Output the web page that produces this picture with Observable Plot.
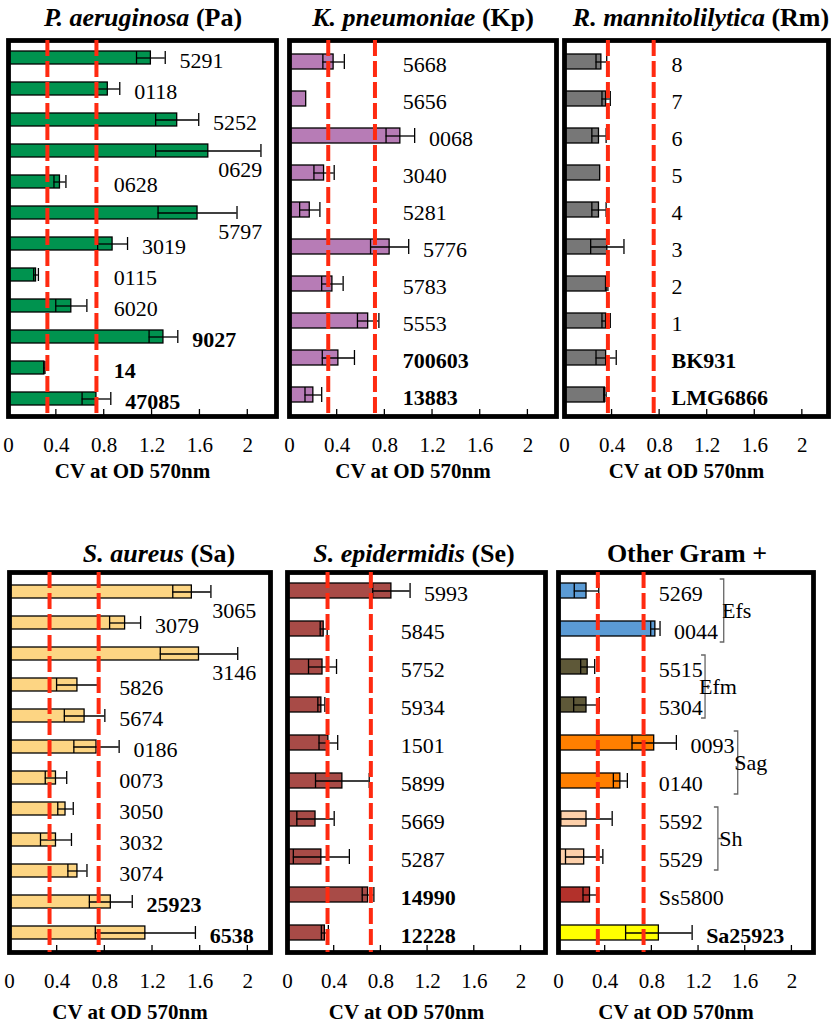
<!DOCTYPE html>
<html><head><meta charset="utf-8">
<script src="https://cdn.jsdelivr.net/npm/d3@7"></script>
<script src="https://cdn.jsdelivr.net/npm/@observablehq/plot@0.6"></script>
<style>
body{margin:0;background:#fff;}
#root{position:relative;width:840px;height:1026px;overflow:hidden;font-family:"Liberation Serif","Times New Roman",serif;background:#fff;}
.title{position:absolute;text-align:center;font-weight:bold;font-size:26px;line-height:30px;white-space:nowrap;width:300px;}
.panel{position:absolute;}
</style></head><body><div id="root"></div>
<script>
// ---------- DATA ----------
const tickValues = [0, 0.4, 0.8, 1.2, 1.6, 2];
const axisTitle = "CV at OD 570nm";

const paLabels = ["5291","0118","5252","0629","0628","5797","3019","0115","6020","9027","14","47085"];
const paValues = [1.19,0.83,1.41,1.67,0.43,1.58,0.87,0.23,0.525,1.295,0.30,0.735];
const paErrors = [0.12,0.10,0.18,0.44,0.05,0.33,0.125,0.02,0.13,0.12,0.005,0.12];
const paRef = ["9027","14","47085"];
const paThresholds = [0.325,0.735];

const kpLabels = ["5668","5656","0068","3040","5281","5776","5783","5553","700603","13883"];
const kpValues = [0.37,0.14,0.93,0.29,0.17,0.84,0.36,0.66,0.41,0.20];
const kpErrors = [0.09,0,0.12,0.085,0.085,0.16,0.09,0.09,0.135,0.07];
const kpRef = ["700603","13883"];
const kpThresholds = [0.325,0.717];

const rmLabels = ["8","7","6","5","4","3","2","1","BK931","LMG6866"];
const rmValues = [0.31,0.35,0.29,0.30,0.29,0.36,0.355,0.35,0.35,0.34];
const rmErrors = [0.045,0.035,0.06,0,0.06,0.14,0.01,0.035,0.085,0.01];
const rmRef = ["BK931","LMG6866"];
const rmThresholds = [0.365,0.75];

const saLabels = ["3065","3079","3146","5826","5674","0186","0073","3050","3032","3074","25923","6538"];
const saValues = [1.53,0.97,1.59,0.57,0.63,0.73,0.39,0.47,0.39,0.57,0.85,1.14];
const saErrors = [0.16,0.13,0.325,0.175,0.17,0.19,0.09,0.065,0.13,0.08,0.18,0.42];
const saRef = ["25923","6538"];
const saThresholds = [0.336,0.748];

const seLabels = ["5993","5845","5752","5934","1501","5899","5669","5287","14990","12228"];
const seValues = [0.89,0.31,0.30,0.29,0.35,0.47,0.24,0.29,0.69,0.32];
const seErrors = [0.16,0.03,0.12,0.03,0.08,0.23,0.16,0.24,0.05,0.03];
const seRef = ["14990","12228"];
const seThresholds = [0.343,0.714];

const otLabels = ["5269","0044","5515","5304","0093","0140","5592","5529","Ss5800","Sa25923"];
const otValues = [0.24,0.83,0.25,0.24,0.82,0.53,0.24,0.22,0.27,0.86];
const otErrors = [0.105,0.04,0.06,0.11,0.19,0.06,0.22,0.16,0.06,0.285];
const otRef = ["Sa25923"];
const otThresholds = [0.337,0.729];
const otColors = ["#5b9bd5","#5b9bd5","#5e5838","#5e5838","#ff7f00","#ff7f00","#fdd0aa","#fdd0aa","#b3312b","#ffff00"];
const otGroups = ["Efs","Efm","Sag","Sh"];
const otGroupMembers = [["5269","0044"],["5515","5304"],["0093","0140"],["5592","5529"]];

// ---------- LAYOUT ----------
const FS = 22;     // data labels
const TFS = 21;    // tick labels / axis title
const panels = [
  {title:"<i>P. aeruginosa</i> (Pa)", tcx:143, ttop:3, left:0, top:36, width:280, ml:8, mr:4, ph:376, xmax:2.24, floor:0.88,
   labels:paLabels, values:paValues, errors:paErrors, ref:paRef, thr:paThresholds, color:"#00934f", pad:0.58, axDy:61},
  {title:"<i>K. pneumoniae</i> (Kp)", tcx:423, ttop:3, left:280, top:36, width:280, ml:9, mr:4, ph:376, xmax:2.24, floor:0.95,
   labels:kpLabels, values:kpValues, errors:kpErrors, ref:kpRef, thr:kpThresholds, color:"#b77cb6", pad:0.6, axDy:61},
  {title:"<i>R. mannitolilytica</i> (Rm)", tcx:701, ttop:3, left:555, top:36, width:278, ml:9, mr:5, ph:376, xmax:2.22, floor:0.9,
   labels:rmLabels, values:rmValues, errors:rmErrors, ref:rmRef, thr:rmThresholds, color:"#777777", pad:0.6, axDy:61},
  {title:"<i>S. aureus</i> (Sa)", tcx:159, ttop:539, left:0, top:568, width:274, ml:9, mr:4, ph:380, xmax:2.19, floor:0.92,
   labels:saLabels, values:saValues, errors:saErrors, ref:saRef, thr:saThresholds, color:"#fdd583", pad:0.58, axDy:66},
  {title:"<i>S. epidermidis</i> (Se)", tcx:414, ttop:539, left:280, top:568, width:270, ml:7, mr:5, ph:380, xmax:2.21, floor:0.97,
   labels:seLabels, values:seValues, errors:seErrors, ref:seRef, thr:seThresholds, color:"#a84b47", pad:0.6, axDy:66},
  {title:"Other Gram +", tcx:687, ttop:539, left:550, top:568, width:268, ml:8, mr:5, ph:380, xmax:2.185, floor:0.86,
   labels:otLabels, values:otValues, errors:otErrors, ref:otRef, thr:otThresholds, colors:otColors, pad:0.6, axDy:66,
   groups:otGroups, members:otGroupMembers, bracketX:[1.42,1.26,1.54,1.37]}
];

const root = document.getElementById("root");

function innerTicks(index, scales, values, dims) {
  const g = d3.create("svg:g").attr("stroke","black").attr("stroke-width",1.3);
  const yb = dims.height - dims.marginBottom;
  for (const t of tickValues.slice(1)) {
    const x = scales.x(t);
    g.append("line").attr("x1",x).attr("x2",x).attr("y1",yb).attr("y2",yb-7);
  }
  return g.node();
}

function bracketMark(cfg) {
  return (index, scales, values, dims) => {
    const g = d3.create("svg:g");
    const bw = scales.y.bandwidth ? scales.y.bandwidth() : 0;
    cfg.groups.forEach((name, k) => {
      const [a, b] = cfg.members[k];
      const x = scales.x(cfg.bracketX[k]);
      const y1 = scales.y(a) - 4, y2 = scales.y(b) + bw + 6, ym = (y1 + y2) / 2;
      g.append("path")
        .attr("d", `M${x-4},${y1}H${x}V${y2}H${x-4}M${x},${ym}H${x+5}`)
        .attr("fill","none").attr("stroke","#666").attr("stroke-width",1.3);
      g.append("text").attr("x", x + 13).attr("y", ym).attr("dy","0.35em")
        .attr("font-size", FS).attr("font-family","Liberation Serif").text(name);
    });
    return g.node();
  };
}

for (const cfg of panels) {
  const rows = cfg.labels.map((label, i) => ({
    label, v: cfg.values[i], e: cfg.errors[i],
    bold: cfg.ref.includes(label),
    color: cfg.colors ? cfg.colors[i] : cfg.color
  }));
  const plotW = cfg.width - cfg.ml - cfg.mr;
  const ppu = plotW / cfg.xmax;
  rows.forEach(r => {
    const end = r.v + r.e;
    const x = Math.max(end + 0.12, cfg.floor);
    const w = r.label.length * FS * 0.5 / ppu;
    if (x + w > cfg.xmax - 0.08) { r.lx = cfg.xmax - 0.12; r.over = true; }
    else { r.lx = x; r.over = false; }
  });
  const withErr = rows.filter(r => r.e > 0);
  const marks = [
    Plot.barX(rows, {x: "v", y: "label", fill: "color", stroke: "black", strokeWidth: 1.3}),
    Plot.ruleY(withErr, {x1: r => r.v - r.e, x2: r => r.v + r.e, y: "label", stroke: "black", strokeWidth: 1.3}),
    Plot.tickX(withErr, {x: r => r.v - r.e, y: "label", stroke: "black", strokeWidth: 1.3}),
    Plot.tickX(withErr, {x: r => r.v + r.e, y: "label", stroke: "black", strokeWidth: 1.3}),
    Plot.frame({stroke: "black", strokeWidth: 4.8}),
    Plot.axisX({ticks: tickValues, tickSize: 0, tickPadding: 21, fontSize: TFS, tickFormat: d => String(d), label: null}),
    innerTicks,
    Plot.text(rows.filter(r => !r.over && !r.bold), {x: "lx", y: "label", text: "label", textAnchor: "start", dy: 3, fontSize: FS}),
    Plot.text(rows.filter(r => !r.over && r.bold), {x: "lx", y: "label", text: "label", textAnchor: "start", dy: 3, fontSize: FS, fontWeight: "bold"}),
    Plot.text(rows.filter(r => r.over), {x: "lx", y: "label", text: "label", textAnchor: "end", dy: 19, fontSize: FS}),
    Plot.ruleX(cfg.thr, {stroke: "#ff2a10", strokeWidth: 4, strokeDasharray: "16,5"}),
    Plot.text([axisTitle], {frameAnchor: "bottom", dx: -10, dy: cfg.axDy, fontSize: TFS, fontWeight: "bold", text: d => d})
  ];
  if (cfg.groups) marks.push(bracketMark(cfg));
  const svg = Plot.plot({
    width: cfg.width, height: 4 + cfg.ph + 76,
    marginLeft: cfg.ml, marginRight: cfg.mr, marginTop: 4, marginBottom: 76,
    style: {fontFamily: "Liberation Serif", background: "transparent", overflow: "visible", color: "black"},
    x: {domain: [0, cfg.xmax], axis: null},
    y: {domain: cfg.labels, paddingInner: cfg.pad, paddingOuter: cfg.pad / 2, axis: null},
    color: {type: "identity"},
    marks
  });
  const div = document.createElement("div");
  div.className = "panel";
  div.style.left = cfg.left + "px";
  div.style.top = cfg.top + "px";
  div.appendChild(svg);
  root.appendChild(div);
  const t = document.createElement("div");
  t.className = "title";
  t.innerHTML = cfg.title;
  t.style.left = (cfg.tcx - 150) + "px";
  t.style.top = cfg.ttop + "px";
  root.appendChild(t);
}
</script></body></html>
